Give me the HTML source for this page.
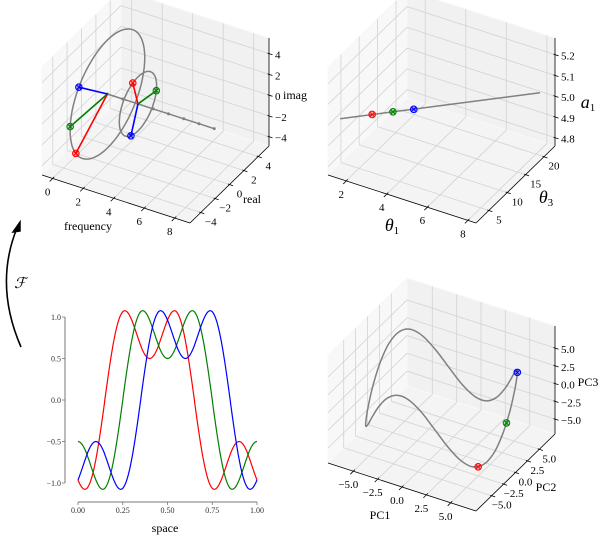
<!DOCTYPE html>
<html><head><meta charset="utf-8">
<style>
html,body{margin:0;padding:0;background:#fff;}
svg{display:block;font-family:"Liberation Serif",serif;}
</style></head>
<body>
<svg id="fig" width="600" height="536" viewBox="0 0 600 536" xmlns="http://www.w3.org/2000/svg">
<rect width="600" height="536" fill="#fff"/>
<g id="p1"></g>
<g id="p2"></g>
<g id="p3"></g>
<g id="p4"></g>
<g>
<path d="M21,347 Q-6,285 17,228" fill="none" stroke="#000" stroke-width="1.6"/>
<path d="M20,222 L13,232 L20,231 Z" fill="#000" stroke="#000" stroke-width="1.5"/>
<text x="20" y="288" font-size="15" font-style="italic" text-anchor="middle">ℱ</text>
</g>
</svg>
<script>
// ---------- Panel 1 data (Fourier coefficients) ----------
const p1TicksX = [0,2,4,6,8];
const p1TicksY = [-4,-2,0,2,4];
const p1TicksZ = [-4,-2,0,2,4];
const p1AxisFreqs = [1,2,3,4,5,6,7,8];
const p1CircleFreq = [1,3];
const p1CircleRadius = [5.2,2.6];
const p1CoefFreq = [1,1,1,3,3,3];
const p1CoefReal = [-4.4,-5.19,-3.98,-0.72,2.56,-0.98];
const p1CoefImag = [-2.75,0.36,3.34,2.50,-0.45,-2.41];
const p1CoefColor = ['red','green','blue','red','green','blue'];
// ---------- Panel 2 data ----------
const p2TicksX = [2,4,6,8];
const p2TicksY = [5,10,15,20];
const p2TicksZ = [4.8,4.9,5.0,5.1,5.2];
const p2LineT1 = [1.7,8.4];
const p2LineT3 = [1.5,18.9];
const p2LineA1 = [5.05,5.087];
const p2PtT1 = [2.77,3.47,4.17];
const p2PtT3 = [4.3,6.1,7.9];
const p2PtA1 = [5.056,5.06,5.063];
const p2PtColor = ['red','green','blue'];
// ---------- Panel 3 data (PCA loop) ----------
const p3Ticks = [-5,-2.5,0,2.5,5];
const pc1 = [7.00,6.89,6.58,6.06,5.36,4.50,3.50,2.39,1.22,0,-1.22,-2.39,-3.50,-4.50,-5.36,-6.06,-6.58,-6.89,-7,-6.89,-6.58,-6.06,-5.36,-4.50,-3.50,-2.39,-1.22,0,1.22,2.39,3.50,4.50,5.36,6.06,6.58,6.89];
const pc2 = [0,1.22,2.39,3.50,4.50,5.36,6.06,6.58,6.89,7,6.89,6.58,6.06,5.36,4.50,3.50,2.39,1.22,0,-1.22,-2.39,-3.50,-4.50,-5.36,-6.06,-6.58,-6.89,-7,-6.89,-6.58,-6.06,-5.36,-4.50,-3.50,-2.39,-1.22];
const pc3 = [1.16,3.18,4.35,4.35,3.18,1.16,-1.16,-3.18,-4.35,-4.35,-3.18,-1.16,1.16,3.18,4.35,4.35,3.18,1.16,-1.16,-3.18,-4.35,-4.35,-3.18,-1.16,1.16,3.18,4.35,4.35,3.18,1.16,-1.16,-3.18,-4.35,-4.35,-3.18,-1.16];
const p3PtPC1 = [5.73,6.97,6.34];
const p3PtPC2 = [-4.02,-0.61,2.96];
const p3PtPC3 = [-4.5,0,4.5];
const p3PtColor = ['red','green','blue'];
// ---------- Panel 4 data (signals) ----------
const sigShift = [0.4,0.5,0.6];
const sigAmp1 = [1,1,1];
const sigAmp3 = [-0.5,-0.5,-0.5];
const sigColor = ['red','green','blue'];
const sigTicksX = [0,0.25,0.5,0.75,1.0];
const sigTickLabelsX = ['0.00','0.25','0.50','0.75','1.00'];
const sigTicksY = [-1,-0.5,0,0.5,1];
const sigTickLabelsY = ['\u22121.0','\u22120.5','0.0','0.5','1.0'];

const NS='http://www.w3.org/2000/svg';
function mk(parent,tag,attrs){const e=document.createElementNS(NS,tag);for(const k in attrs)e.setAttribute(k,attrs[k]);parent.appendChild(e);return e;}
function fmt(v){return String(v).replace('-','\u2212');}

function makeProj(ox,oy,xr,yr,zr){
  return function(x,y,z){
    const fx=(x-xr[0])/(xr[1]-xr[0]),fy=(y-yr[0])/(yr[1]-yr[0]),fz=(z-zr[0])/(zr[1]-zr[0]);
    return [ox+148*fx+79*fy, oy+48*fx-77*fy-108*fz];
  };
}
function pts(arr){return arr.map(p=>p[0].toFixed(1)+','+p[1].toFixed(1)).join(' ');}

function drawBox(g,P,xr,yr,zr,tx,ty,tz,txl,tyl,tzl){
  const [x0,x1]=xr,[y0,y1]=yr,[z0,z1]=zr;
  let e=mk(g,'polygon',{points:pts([P(x0,y0,z0),P(x1,y0,z0),P(x1,y1,z0),P(x0,y1,z0)]),fill:'#f4f4f4',stroke:'#f8f8f8'});
  
  e=mk(g,'polygon',{points:pts([P(x0,y1,z0),P(x1,y1,z0),P(x1,y1,z1),P(x0,y1,z1)]),fill:'#f1f1f1',stroke:'#f8f8f8'});
  
  e=mk(g,'polygon',{points:pts([P(x0,y0,z0),P(x0,y1,z0),P(x0,y1,z1),P(x0,y0,z1)]),fill:'#f8f8f8',stroke:'#f8f8f8'});
  
  const gs={stroke:'#d3d3d3','stroke-width':0.8,fill:'none'};
  tx.forEach(v=>{mk(g,'polyline',Object.assign({points:pts([P(v,y0,z0),P(v,y1,z0),P(v,y1,z1)])},gs));});
  ty.forEach(v=>{mk(g,'polyline',Object.assign({points:pts([P(x1,v,z0),P(x0,v,z0),P(x0,v,z1)])},gs));});
  tz.forEach(v=>{mk(g,'polyline',Object.assign({points:pts([P(x0,y0,v),P(x0,y1,v),P(x1,y1,v)])},gs));});
  e=mk(g,'line',{x1:P(x0,y0,z0)[0],y1:P(x0,y0,z0)[1],x2:P(x1,y0,z0)[0],y2:P(x1,y0,z0)[1],stroke:'#000','stroke-width':0.8});
  
  e=mk(g,'line',{x1:P(x1,y0,z0)[0],y1:P(x1,y0,z0)[1],x2:P(x1,y1,z0)[0],y2:P(x1,y1,z0)[1],stroke:'#000','stroke-width':0.8});
  
  e=mk(g,'line',{x1:P(x1,y1,z0)[0],y1:P(x1,y1,z0)[1],x2:P(x1,y1,z1)[0],y2:P(x1,y1,z1)[1],stroke:'#000','stroke-width':0.8});
  
  tx.forEach((v,i)=>{const p=P(v,y0,z0);mk(g,'line',{x1:p[0]+1.5,y1:p[1]-1.5,x2:p[0]-3,y2:p[1]+3,stroke:'#000','stroke-width':0.8});
    const t=mk(g,'text',{x:p[0]-5,y:p[1]+17,'font-size':11,'text-anchor':'middle'});t.textContent=txl[i];
    });
  ty.forEach((v,i)=>{const p=P(x1,v,z0);mk(g,'line',{x1:p[0]-1.5,y1:p[1]-0.5,x2:p[0]+3.5,y2:p[1]+1.2,stroke:'#000','stroke-width':0.8});
    const t=mk(g,'text',{x:p[0]+10,y:p[1]+13,'font-size':11,'text-anchor':'middle'});t.textContent=tyl[i];
    });
  tz.forEach((v,i)=>{const p=P(x1,y1,v);mk(g,'line',{x1:p[0]-1.5,y1:p[1]-0.5,x2:p[0]+3.5,y2:p[1]+1.2,stroke:'#000','stroke-width':0.8});
    const t=mk(g,'text',{x:p[0]+6,y:p[1]+5,'font-size':11,'text-anchor':'start'});t.textContent=tzl[i];
    });
}
function marker(g,p,c,name){
  const m=mk(g,'g',{});
  
  mk(m,'circle',{cx:p[0],cy:p[1],r:3.3,fill:c,'fill-opacity':0.3,stroke:c,'stroke-width':1});
  mk(m,'path',{d:`M${p[0]-2.3},${p[1]-2.3}L${p[0]+2.3},${p[1]+2.3}M${p[0]-2.3},${p[1]+2.3}L${p[0]+2.3},${p[1]-2.3}`,stroke:c,'stroke-width':1});
}
function label(g,x,y,txt,size,name,italic){
  const t=mk(g,'text',{x:x,y:y,'font-size':size,'text-anchor':'middle'});
  if(italic)t.setAttribute('font-style','italic');
  t.innerHTML=txt;
  
}
const SUB=n=>`<tspan font-size="11" dy="3" font-style="normal">${n}</tspan>`;

// ---------- Panel 1 ----------
(function(){
  const g=document.getElementById('p1');
  const xr=[-0.7,9.0],yr=[-5.5,5.5],zr=[-4.9,5.5];
  const P=makeProj(42,175,xr,yr,zr);
  drawBox(g,P,xr,yr,zr,p1TicksX,p1TicksY,p1TicksZ,p1TicksX.map(fmt),p1TicksY.map(fmt),p1TicksZ.map(fmt));
  const ax=p1AxisFreqs.map(f=>P(f,0,0));
  let e=mk(g,'polyline',{points:pts(ax),fill:'none',stroke:'#808080','stroke-width':1.5});
  
  ax.forEach(p=>{mk(g,'circle',{cx:p[0],cy:p[1],r:1.5,fill:'#808080'});});
  p1CircleFreq.forEach((f,i)=>{
    const c=[];for(let k=0;k<=72;k++){const a=k/72*2*Math.PI;c.push(P(f,p1CircleRadius[i]*Math.cos(a),p1CircleRadius[i]*Math.sin(a)));}
    e=mk(g,'polyline',{points:pts(c),fill:'none',stroke:'#808080','stroke-width':1.5});
    
  });
  p1CoefFreq.forEach((f,i)=>{
    const a=P(f,0,0),b=P(f,p1CoefReal[i],p1CoefImag[i]);
    e=mk(g,'line',{x1:a[0],y1:a[1],x2:b[0],y2:b[1],stroke:p1CoefColor[i],'stroke-width':1.6});
    
    marker(g,b,p1CoefColor[i],'coefficient-marker');
  });
  label(g,88,230,'frequency',12,'x-axis-title');
  label(g,252,203,'real',12,'y-axis-title');
  label(g,295,99,'imag',12,'z-axis-title');
})();

// ---------- Panel 2 ----------
(function(){
  const g=document.getElementById('p2');
  const xr=[1.1,8.4],yr=[1.5,23],zr=[4.76,5.28];
  const P=makeProj(328,175,xr,yr,zr);
  drawBox(g,P,xr,yr,zr,p2TicksX,p2TicksY,p2TicksZ,p2TicksX.map(fmt),p2TicksY.map(fmt),p2TicksZ.map(v=>v.toFixed(1)));
  const a=P(p2LineT1[0],p2LineT3[0],p2LineA1[0]),b=P(p2LineT1[1],p2LineT3[1],p2LineA1[1]);
  let e=mk(g,'line',{x1:a[0],y1:a[1],x2:b[0],y2:b[1],stroke:'#808080','stroke-width':1.5});
  
  p2PtT1.forEach((v,i)=>marker(g,P(v,p2PtT3[i],p2PtA1[i]),p2PtColor[i],'parameter-marker'));
  label(g,392,231,'θ'+SUB(1),18,'x-axis-title',true);
  label(g,546,203,'θ'+SUB(3),18,'y-axis-title',true);
  label(g,588,108,'a'+SUB(1),18,'z-axis-title',true);
})();

// ---------- Panel 3 ----------
(function(){
  const g=document.getElementById('p3');
  const xr=[-7.6,7.6],yr=[-8.3,8.3],zr=[-7.1,8.1];
  const P=makeProj(328,463,xr,yr,zr);
  const tl=p3Ticks.map(v=>v.toFixed(1).replace('-','\u2212'));
  drawBox(g,P,xr,yr,zr,p3Ticks,p3Ticks,p3Ticks,tl,tl,tl);
  const c=pc1.map((v,i)=>P(v,pc2[i],pc3[i]));
  const n=c.length;let d=`M${c[0][0].toFixed(1)},${c[0][1].toFixed(1)}`;
  for(let i=0;i<n;i++){
    const p0=c[(i-1+n)%n],p1=c[i],p2=c[(i+1)%n],p3=c[(i+2)%n];
    const c1=[p1[0]+(p2[0]-p0[0])/6,p1[1]+(p2[1]-p0[1])/6],c2=[p2[0]-(p3[0]-p1[0])/6,p2[1]-(p3[1]-p1[1])/6];
    d+=`C${c1[0].toFixed(1)},${c1[1].toFixed(1)} ${c2[0].toFixed(1)},${c2[1].toFixed(1)} ${p2[0].toFixed(1)},${p2[1].toFixed(1)}`;
  }
  let e=mk(g,'path',{d:d,fill:'none',stroke:'#808080','stroke-width':1.5});
  
  p3PtPC1.forEach((v,i)=>marker(g,P(v,p3PtPC2[i],p3PtPC3[i]),p3PtColor[i],'pca-marker'));
  label(g,380,519,'PC1',12,'x-axis-title');
  label(g,546,491,'PC2',12,'y-axis-title');
  label(g,588,386,'PC3',12,'z-axis-title');
})();

// ---------- Panel 4 ----------
(function(){
  const g=document.getElementById('p4');
  const X=v=>78+v*179, Y=v=>400-v*83;
  let e=mk(g,'line',{x1:65,y1:Y(1),x2:65,y2:Y(-1),stroke:'#777','stroke-width':1});
  
  e=mk(g,'line',{x1:X(0),y1:502,x2:X(1),y2:502,stroke:'#777','stroke-width':1});
  
  sigTicksY.forEach((v,i)=>{mk(g,'line',{x1:62,y1:Y(v),x2:65,y2:Y(v),stroke:'#777','stroke-width':0.8});
    const t=mk(g,'text',{x:61,y:Y(v)+3,'font-size':8,'text-anchor':'end',fill:'#333'});t.textContent=sigTickLabelsY[i];
    });
  sigTicksX.forEach((v,i)=>{mk(g,'line',{x1:X(v),y1:502,x2:X(v),y2:505,stroke:'#777','stroke-width':0.8});
    const t=mk(g,'text',{x:X(v),y:513,'font-size':8,'text-anchor':'middle',fill:'#333'});t.textContent=sigTickLabelsX[i];
    });
  sigShift.forEach((c,k)=>{
    const p=[];for(let i=0;i<=300;i++){const x=i/300;const y=sigAmp1[k]*Math.cos(2*Math.PI*(x-c))+sigAmp3[k]*Math.cos(6*Math.PI*(x-c));p.push([X(x),Y(y)]);}
    e=mk(g,'polyline',{points:pts(p),fill:'none',stroke:sigColor[k],'stroke-width':1.2});
    
  });
  label(g,165,532,'space',12,'x-axis-title');
})();
</script>
</body></html>
